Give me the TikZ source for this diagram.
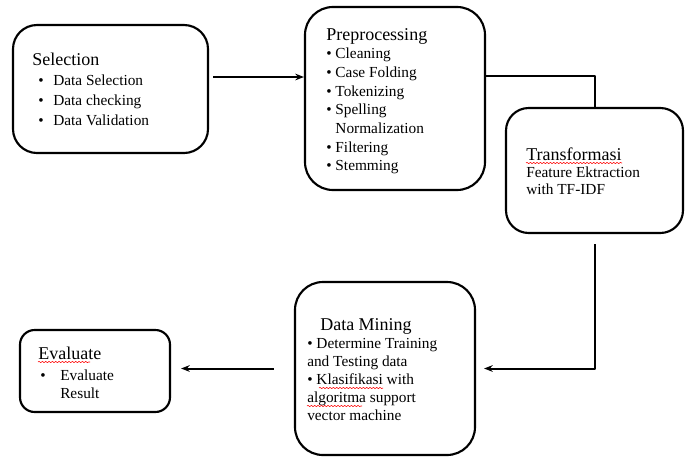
\documentclass[tikz,border=0pt]{standalone}
\usepackage{fontspec}
\setmainfont{Liberation Serif}
\usetikzlibrary{fit,arrows.meta,decorations.pathmorphing}
\tikzset{
  box/.style={draw,line width=1.6pt,inner sep=0pt},
  txt/.style={anchor=north west,inner sep=0pt,align=left},
  link/.style={line width=1.5pt},
  spell/.style={red,line width=0.4pt,decorate,decoration={snake,amplitude=0.5pt,segment length=2.5pt}}
}
\newcommand\hd[1]{{\fontsize{13.5}{14}\selectfont #1}}
\newcommand\itsize[1]{\fontsize{11.5}{#1}\selectfont}

\begin{document}
\begin{tikzpicture}[x=0.75pt,y=-0.75pt,>={Stealth[length=6.5pt,width=5pt]},line join=round]
\useasboundingbox (0,0) rectangle (689,458);
\path
 (13,25) coordinate (sel1) (208,153) coordinate (sel2)
 (305,7) coordinate (prep1) (485,190) coordinate (prep2)
 (506,108) coordinate (trans1) (683,233) coordinate (trans2)
 (295,282) coordinate (dm1) (475,455) coordinate (dm2)
 (20,330) coordinate (eval1) (170,412) coordinate (eval2)
 (0,77) coordinate (r1) (0,76) coordinate (r2)
 ;
% boxes
\node[box,rounded corners=18pt,fit=(sel1)(sel2)] (sel) {};
\node[box,rounded corners=21pt,fit=(prep1)(prep2)] (prep) {};
\node[box,rounded corners=17pt,fit=(trans1)(trans2)] (trans) {};
\node[box,rounded corners=21pt,fit=(dm1)(dm2)] (dm) {};
\node[box,rounded corners=11pt,fit=(eval1)(eval2)] (eval) {};
% texts
\node[txt,font=\itsize{15pt}] (seltxt) at (32,53) {\hd{Selection}\\
  \hspace*{4.5pt}\makebox[11.25pt][l]{\textbullet}Data Selection\\
  \hspace*{4.5pt}\makebox[11.25pt][l]{\textbullet}Data checking\\
  \hspace*{4.5pt}\makebox[11.25pt][l]{\textbullet}Data Validation};
\node[txt,font=\itsize{14pt}] (preptxt) at (326,28) {\hd{Preprocessing}\\
  \textbullet{} Cleaning\\
  \textbullet{} Case Folding\\
  \textbullet{} Tokenizing\\
  \textbullet{} Spelling\\
  \phantom{\textbullet{} }Normalization\\
  \textbullet{} Filtering\\
  \textbullet{} Stemming};
\node[txt,font=\itsize{12.4pt}] (transtxt) at (526,148) {\hd{Transformasi}\\
  Feature Ektraction\\
  with TF-IDF};
\node[txt,font=\itsize{13.5pt}] (dmtxt) at (307,318) {\hspace*{9.75pt}\hd{Data Mining}\\
  \textbullet{} Determine Training\\
  and Testing data\\
  \textbullet{} Klasifikasi with\\
  algoritma support\\
  vector machine};
\node[txt,font=\itsize{13.5pt}] (evaltxt) at (38,347) {\hd{Evaluate}\\[2pt]
  \hspace*{1.5pt}\makebox[15pt][l]{\textbullet}Evaluate\\
  \hspace*{16.5pt}Result};
% spelling marks
\draw[spell] (526,163) -- (622,163);
\draw[spell] (319,388) -- (383,388);
\draw[spell] (307,406) -- (362,406);
\draw[spell] (38,362) -- (90,362);
% connectors
\draw[link,->,shorten <=3pt] (sel.east |- r1) -- (prep.west |- r1);
\draw[link] (prep.east |- r2) -| (trans.north);
\draw[link,->,shorten <=7.5pt,shorten >=6pt] (trans.south) |- (dm.east);
\draw[link,->,shorten <=15pt,shorten >=7.5pt] (dm.west) -- (eval.east |- dm.west);
\end{tikzpicture}
\end{document}
